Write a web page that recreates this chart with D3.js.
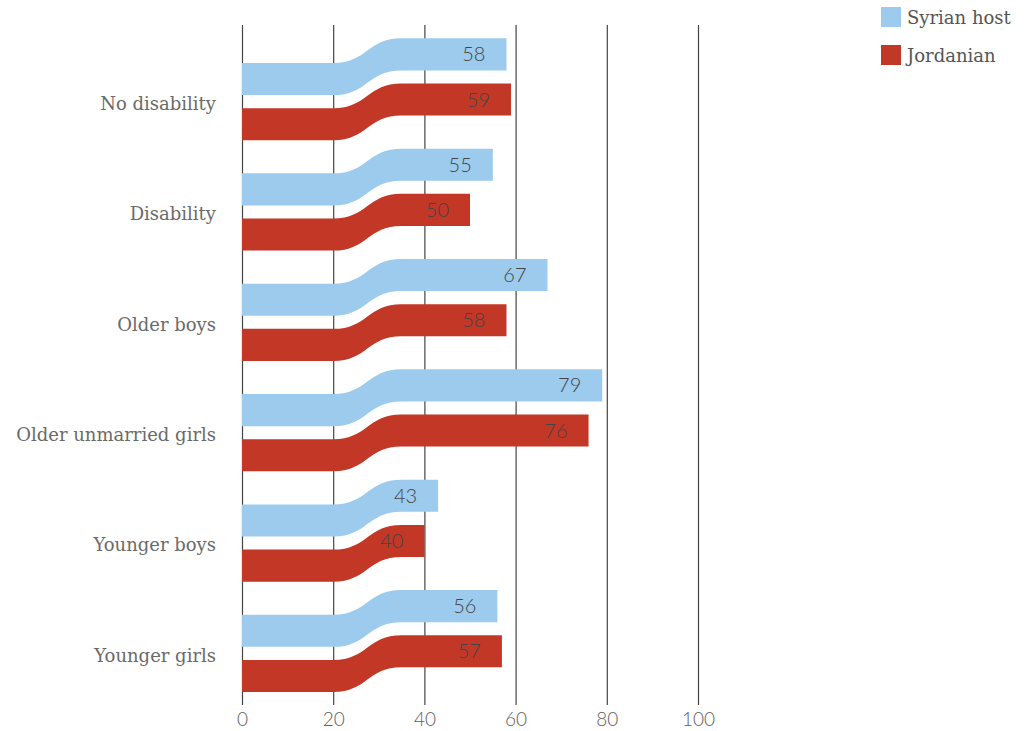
<!DOCTYPE html>
<html>
<head>
<meta charset="utf-8">
<script src="https://cdn.jsdelivr.net/npm/d3@7"></script>
<style>
  html, body { margin: 0; padding: 0; background: #fff; }
  svg { display: block; }
  .cat { font-family: "DejaVu Serif", "Liberation Serif", serif; font-size: 18px; fill: #6a6a6a; }
  .legend text { font-family: "DejaVu Serif", "Liberation Serif", serif; font-size: 18px; fill: #555; }
  .val { font-family: Lato, "Open Sans", sans-serif; font-weight: 300; font-size: 20px; fill: #444; }
  .tick text { font-family: Lato, "Open Sans", sans-serif; font-weight: 300; font-size: 19px; fill: #5e5e5e; }
</style>
</head>
<body>
<svg id="chart" width="1029" height="731"></svg>
<script>
// Categories and series
const categories = ["No disability", "Disability", "Older boys", "Older unmarried girls", "Younger boys", "Younger girls"];
const seriesNames = ["Syrian host", "Jordanian"];
const syrianHost = [58, 55, 67, 79, 43, 56];
const jordanian = [59, 50, 58, 76, 40, 57];
const tickValues = [0, 20, 40, 60, 80, 100];
const colors = ["#9ccbed", "#c33727"];

// Where the ribbon bends upward (in data units)
const bendStart = 20;
const bendEnd = 35;

const svg = d3.select("#chart");

const x = d3.scaleLinear().domain([0, 100]).range([242, 698]);
const y0 = d3.scaleBand().domain(categories).range([63, 692]).paddingInner(0.3).paddingOuter(0);
const y1 = d3.scaleBand().domain(seriesNames).range([0, y0.bandwidth()]).paddingInner(0.29);
const color = d3.scaleOrdinal().domain(seriesNames).range(colors);

const rise = y1.bandwidth() * 0.77;

// Vertical grid lines + bottom axis
const axis = d3.axisBottom(x).tickValues(tickValues).tickSize(680).tickPadding(8).tickFormat(d3.format("d"));
const gAxis = svg.append("g").attr("transform", "translate(0,25)").call(axis);
gAxis.select(".domain").remove();
gAxis.selectAll(".tick line").attr("stroke", "#444").attr("stroke-width", 1.2);

// Build one ribbon: flat from 0 to bendStart, S-curve up to bendEnd, flat to value
function ribbonPath(v, top) {
  const h = y1.bandwidth();
  const xa = x(0), xb = x(bendStart), xc = x(bendEnd), xe = x(v);
  const xm = (xb + xc) / 2;
  const lowTop = top, lowBot = top + h;
  const upTop = top - rise, upBot = top - rise + h;
  return [
    `M${xa},${lowTop}`,
    `L${xb},${lowTop}`,
    `C${xm},${lowTop} ${xm},${upTop} ${xc},${upTop}`,
    `L${xe},${upTop}`,
    `L${xe},${upBot}`,
    `L${xc},${upBot}`,
    `C${xm},${upBot} ${xm},${lowBot} ${xb},${lowBot}`,
    `L${xa},${lowBot}`,
    "Z"
  ].join(" ");
}

const rows = categories.map((c, i) => ({
  category: c,
  values: [
    { series: seriesNames[0], value: syrianHost[i] },
    { series: seriesNames[1], value: jordanian[i] }
  ]
}));

const groups = svg.append("g").selectAll("g").data(rows).join("g")
  .attr("transform", d => `translate(0,${y0(d.category)})`);

groups.selectAll("path").data(d => d.values).join("path")
  .attr("d", d => ribbonPath(d.value, y1(d.series)))
  .attr("fill", d => color(d.series));

groups.selectAll("text.val").data(d => d.values).join("text")
  .attr("class", "val")
  .attr("x", d => x(d.value) - 21)
  .attr("y", d => y1(d.series) - rise + y1.bandwidth() / 2)
  .attr("dy", "0.35em")
  .attr("text-anchor", "end")
  .text(d => d.value);

// Category labels
svg.append("g").selectAll("text").data(categories).join("text")
  .attr("class", "cat")
  .attr("x", 216)
  .attr("y", d => y0(d) + y0.bandwidth() / 2 + 2)
  .attr("dy", "0.35em")
  .attr("text-anchor", "end")
  .text(d => d);

// Legend
const legend = svg.append("g").attr("class", "legend").attr("transform", "translate(881,7)");
const li = legend.selectAll("g").data(seriesNames).join("g")
  .attr("transform", (d, i) => `translate(0,${i * 38})`);
li.append("rect").attr("width", 20).attr("height", 20).attr("fill", d => color(d));
li.append("text").attr("x", 26).attr("y", 11).attr("dy", "0.35em").text(d => d);
</script>
</body>
</html>
